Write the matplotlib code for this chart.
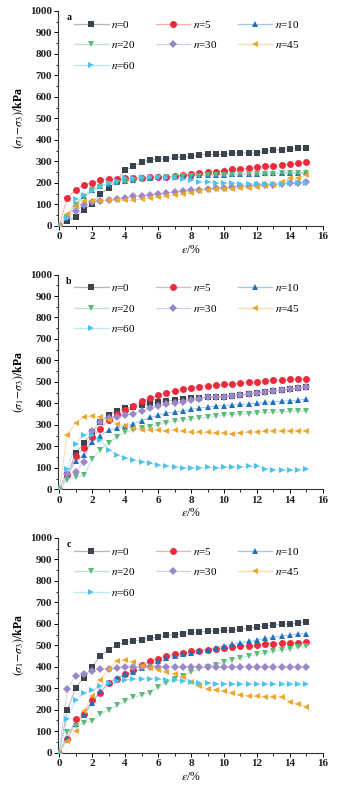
import matplotlib
matplotlib.use("Agg")
import matplotlib.pyplot as plt
import numpy as np
from matplotlib.colors import to_rgb
from matplotlib.lines import Line2D
from matplotlib.ticker import MultipleLocator

plt.rcParams["font.family"] = ["Liberation Serif", "DejaVu Serif"]
plt.rcParams["mathtext.fontset"] = "stix"

strain = np.arange(0, 15.01, 0.5)
cycles = [0, 5, 10, 20, 30, 45, 60]

# deviator stress (kPa) per freeze-thaw cycle count, panel a
a_n0 = [0, 22, 42, 72, 103, 147, 175, 210, 258, 278, 295, 308, 310, 312, 318, 320, 323, 330, 332, 333, 333, 338, 340, 338, 338, 348, 352, 355, 358, 360, 360]
a_n5 = [0, 130, 168, 190, 200, 215, 217, 218, 220, 222, 223, 225, 225, 228, 230, 235, 240, 245, 248, 252, 257, 262, 265, 268, 272, 277, 280, 285, 288, 292, 295]
a_n10 = [0, 45, 100, 140, 165, 185, 195, 205, 210, 215, 220, 222, 225, 228, 230, 232, 233, 235, 236, 238, 238, 240, 240, 242, 243, 244, 245, 245, 246, 247, 248]
a_n20 = [0, 40, 95, 135, 165, 180, 195, 200, 205, 210, 215, 220, 222, 225, 228, 230, 232, 233, 234, 235, 236, 238, 240, 240, 242, 243, 243, 244, 244, 245, 245]
a_n30 = [0, 40, 70, 97, 110, 115, 118, 123, 130, 138, 140, 145, 148, 152, 157, 160, 165, 168, 172, 175, 178, 180, 183, 185, 188, 190, 192, 195, 197, 200, 202]
a_n45 = [0, 55, 90, 115, 117, 117, 118, 118, 118, 120, 125, 128, 133, 138, 142, 148, 152, 162, 168, 170, 172, 173, 175, 177, 180, 183, 188, 205, 220, 222, 235]
a_n60 = [0, 35, 125, 145, 160, 180, 200, 210, 220, 222, 225, 225, 225, 222, 220, 218, 212, 205, 202, 200, 198, 197, 195, 195, 195, 195, 195, 196, 197, 200, 200]

# panel b
b_n0 = [0, 65, 170, 215, 265, 315, 345, 365, 378, 385, 392, 400, 405, 410, 415, 420, 425, 425, 428, 430, 432, 435, 438, 443, 450, 455, 460, 462, 465, 470, 475]
b_n5 = [0, 65, 155, 192, 245, 280, 325, 350, 370, 388, 410, 425, 438, 450, 458, 465, 472, 478, 482, 485, 488, 490, 495, 498, 500, 505, 507, 510, 512, 513, 515]
b_n10 = [0, 65, 130, 160, 220, 250, 275, 285, 295, 305, 320, 335, 345, 355, 360, 365, 372, 378, 383, 388, 390, 392, 395, 398, 400, 405, 408, 410, 413, 415, 420]
b_n20 = [0, 45, 55, 65, 140, 185, 215, 245, 265, 278, 285, 292, 300, 310, 318, 322, 328, 332, 335, 340, 345, 348, 350, 352, 355, 358, 360, 362, 365, 365, 365]
b_n30 = [0, 70, 80, 128, 270, 315, 330, 335, 345, 352, 365, 378, 388, 395, 400, 405, 418, 422, 428, 432, 432, 435, 438, 442, 450, 455, 458, 462, 465, 470, 478]
b_n45 = [0, 255, 308, 338, 340, 335, 322, 305, 295, 285, 278, 275, 275, 272, 275, 270, 265, 265, 265, 262, 260, 258, 262, 265, 268, 270, 272, 272, 272, 272, 272]
b_n60 = [0, 95, 210, 255, 255, 230, 185, 160, 145, 135, 128, 122, 112, 108, 103, 100, 100, 100, 102, 100, 102, 103, 105, 107, 107, 95, 90, 88, 88, 90, 93]

# panel c
c_n0 = [0, 200, 300, 350, 400, 450, 480, 500, 515, 520, 525, 535, 538, 548, 550, 555, 560, 562, 565, 568, 570, 572, 575, 580, 585, 590, 595, 598, 600, 605, 608]
c_n5 = [0, 65, 155, 180, 245, 278, 325, 345, 365, 385, 410, 425, 438, 448, 458, 465, 472, 475, 480, 483, 488, 490, 495, 498, 502, 505, 508, 510, 512, 513, 515]
c_n10 = [0, 70, 135, 175, 230, 285, 325, 350, 365, 375, 395, 410, 425, 440, 450, 458, 465, 475, 480, 488, 498, 505, 512, 518, 525, 532, 538, 542, 548, 552, 555]
c_n20 = [0, 95, 125, 138, 148, 180, 198, 220, 240, 258, 268, 280, 305, 325, 345, 358, 375, 390, 400, 410, 420, 432, 442, 450, 458, 465, 472, 478, 485, 490, 495]
c_n30 = [0, 298, 358, 368, 380, 390, 390, 395, 400, 400, 400, 400, 400, 400, 400, 400, 400, 400, 400, 400, 400, 400, 400, 400, 400, 400, 400, 400, 400, 400, 400]
c_n45 = [0, 55, 100, 195, 265, 340, 390, 425, 432, 420, 405, 395, 385, 375, 365, 352, 330, 310, 298, 290, 285, 280, 270, 265, 262, 260, 260, 260, 238, 225, 215]
c_n60 = [0, 158, 245, 278, 290, 312, 325, 335, 340, 342, 345, 345, 345, 340, 338, 335, 330, 325, 325, 320, 320, 318, 318, 318, 318, 318, 318, 318, 318, 318, 318]

panels = {
    "a": [a_n0, a_n5, a_n10, a_n20, a_n30, a_n45, a_n60],
    "b": [b_n0, b_n5, b_n10, b_n20, b_n30, b_n45, b_n60],
    "c": [c_n0, c_n5, c_n10, c_n20, c_n30, c_n45, c_n60],
}

colors = ["#3b434d", "#ee2a3c", "#1d6fc0", "#5dba7b", "#9b88c8", "#eba62c", "#4cc3ea"]
markers = ["s", "o", "^", "v", "D", "<", ">"]
msizes = [4.6, 5.0, 5.0, 5.0, 4.2, 5.0, 5.0]


def lighten(c, amount=0.6):
    r, g, b = to_rgb(c)
    return (r + (1 - r) * amount, g + (1 - g) * amount, b + (1 - b) * amount)


fig = plt.figure(figsize=(3.41, 7.96), dpi=100)
bottoms = [0.7164, 0.3853, 0.0544]

# legend is filled column-wise, so reorder to read row by row (3 per row)
leg_order = [0, 3, 6, 1, 4, 2, 5]

for (tag, series), bottom in zip(panels.items(), bottoms):
    ax = fig.add_axes([0.171, bottom, 0.776, 0.2698])
    handles = []
    for vals, n, c, m, ms in zip(series, cycles, colors, markers, msizes):
        lc = lighten(c)
        ax.plot(strain, vals, color=lc, lw=0.7, zorder=2)
        ax.plot(strain, vals, ls="none", marker=m, ms=ms, color=c,
                markeredgewidth=0, zorder=3)
        handles.append(Line2D([], [], color=lc, lw=0.9, marker=m, ms=ms,
                              markerfacecolor=c, markeredgewidth=0,
                              label=f"$n$={n}"))
    ax.set_xlim(-0.05, 16)
    ax.set_ylim(0, 1000)
    ax.xaxis.set_major_locator(MultipleLocator(2))
    ax.xaxis.set_minor_locator(MultipleLocator(1))
    ax.yaxis.set_major_locator(MultipleLocator(100))
    ax.yaxis.set_minor_locator(MultipleLocator(50))
    for s in ["top", "right"]:
        ax.spines[s].set_visible(False)
    for s in ["left", "bottom"]:
        ax.spines[s].set_linewidth(0.8)
        ax.spines[s].set_color("#333333")
    ax.tick_params(which="major", direction="out", length=3, width=0.7,
                   labelsize=8, pad=1.5, labelcolor="#222222")
    ax.tick_params(which="minor", direction="out", length=1.8, width=0.6)
    for lab in ax.get_xticklabels() + ax.get_yticklabels():
        lab.set_fontweight("bold")
    ax.set_xlabel(r"$\varepsilon$/%", fontsize=8.5, labelpad=2)
    ax.set_ylabel(r"$(\sigma_1\!-\!\sigma_3)$/kPa", fontsize=8.5, labelpad=3,
                  fontweight="bold")
    ax.text(0.03, 0.99, tag, transform=ax.transAxes, fontsize=7,
            fontweight="bold", va="top", ha="left")
    ordered = [handles[i] for i in leg_order]
    ax.legend(handles=ordered, loc="upper left", bbox_to_anchor=(0.035, 0.995),
              ncol=3, frameon=False, fontsize=8, handlelength=3.1,
              numpoints=1, columnspacing=1.8, handletextpad=0.25,
              labelspacing=0.85, borderaxespad=0.2)

fig.savefig("out.png", dpi=100, facecolor="white")
